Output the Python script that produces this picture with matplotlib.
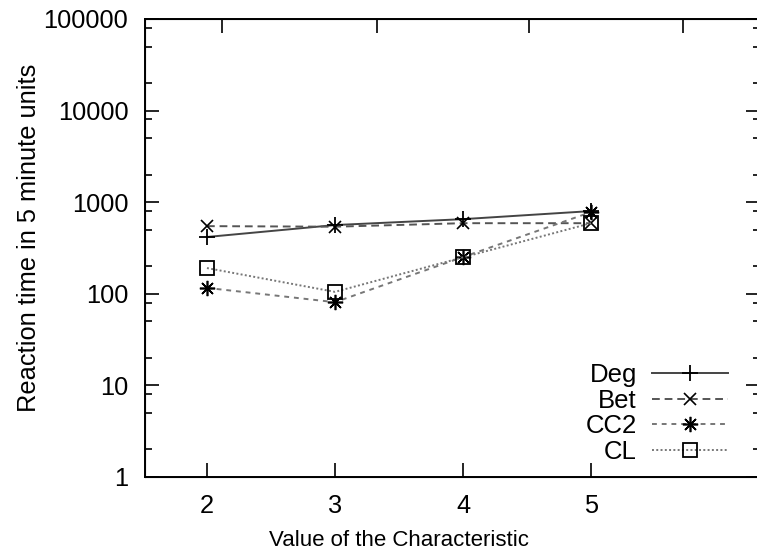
import matplotlib
matplotlib.use("Agg")
import matplotlib.pyplot as plt
from matplotlib.ticker import FixedLocator, NullFormatter, FuncFormatter

plt.rcParams['font.family'] = ['Liberation Sans', 'DejaVu Sans']

x_values = [2, 3, 4, 5]
deg = [417, 563, 653, 800]
bet = [548, 540, 590, 590]
cc2 = [116, 81, 252, 780]
cl = [191, 105, 250, 590]
series_labels = ["Deg", "Bet", "CC2", "CL"]
x_label = "Value of the Characteristic"
y_label = "Reaction time in 5 minute units"

W, H = 757, 555
FS = 18.3
fig = plt.figure(figsize=(W / 100, H / 100), dpi=100)
left, right, top, bottom = 145, 760, 19, 477
ax = fig.add_axes([left / W, 1 - bottom / H, (right - left) / W, (bottom - top) / H])

styles = [
    dict(color='#444444', ls='-', marker='+', ms=12, mew=1.3),
    dict(color='#555555', ls=(0, (4, 2.5)), marker='x', ms=9, mew=1.2),
    dict(color='#777777', ls=(0, (2.5, 2.5)), marker=(8, 2, 0), ms=11, mew=1.2),
    dict(color='#777777', ls=(0, (1, 1.2)), marker='s', ms=10, mew=1.3, mfc='none'),
]
handles = []
for ys, lab, st in zip([deg, bet, cc2, cl], series_labels, styles):
    mfc = st.pop('mfc', None)
    h, = ax.plot(x_values, ys, lw=1.4, mec='black', label=lab,
                 **({'mfc': mfc} if mfc else {}), **st)
    handles.append(h)

ax.set_yscale('log')
ax.set_ylim(1, 100000)
ax.set_xlim(1.516, 6.32)
ax.set_xticks(x_values)
ax.yaxis.set_major_locator(FixedLocator([1, 10, 100, 1000, 10000, 100000]))
ax.yaxis.set_major_formatter(FuncFormatter(lambda v, p: f"{int(round(v))}"))
minors = [m * 10 ** k for k in range(0, 5) for m in (2, 5, 8)]
ax.yaxis.set_minor_locator(FixedLocator(minors))
ax.yaxis.set_minor_formatter(NullFormatter())
ax.tick_params(axis='both', which='major', direction='in', length=10, width=1.2,
               labelsize=FS, right=True, top=False, colors='black')
ax.tick_params(axis='y', which='major', pad=12)
ax.tick_params(axis='x', which='major', pad=12)
ax.tick_params(axis='y', which='minor', direction='in', length=5, width=1.2, right=True)
ax.xaxis.set_minor_locator(FixedLocator([]))
for s in ax.spines.values():
    s.set_linewidth(1.4)

# top axis ticks (mirrored, unlabeled)
top_ticks_px = [222, 377, 529, 683]
tax = ax.twiny()
tax.set_xlim(left, right)
tax.set_xticks(top_ticks_px)
tax.tick_params(axis='x', direction='in', length=10, width=1.2, labeltop=False)

ax.set_xlabel(x_label, fontsize=16)
ax.xaxis.set_label_coords((399 - left) / (right - left), -(540 - bottom) / (bottom - top))
ax.xaxis.label.set_va('center')
ax.set_ylabel(y_label, fontsize=FS)
ax.yaxis.set_label_coords(-(left - 29) / (right - left), (bottom - 238) / (bottom - top))
ax.yaxis.label.set_va('center')

leg = ax.legend(handles=handles, loc='lower right', markerfirst=False, frameon=False,
                fontsize=18.5, handlelength=2.95, handletextpad=0.6, labelspacing=0.06,
                borderpad=0, borderaxespad=0,
                bbox_to_anchor=(728 / W, 1 - 464 / H), bbox_transform=fig.transFigure)
for t in leg.get_texts():
    t.set_ha('right')

fig.savefig("out.png", dpi=100)
